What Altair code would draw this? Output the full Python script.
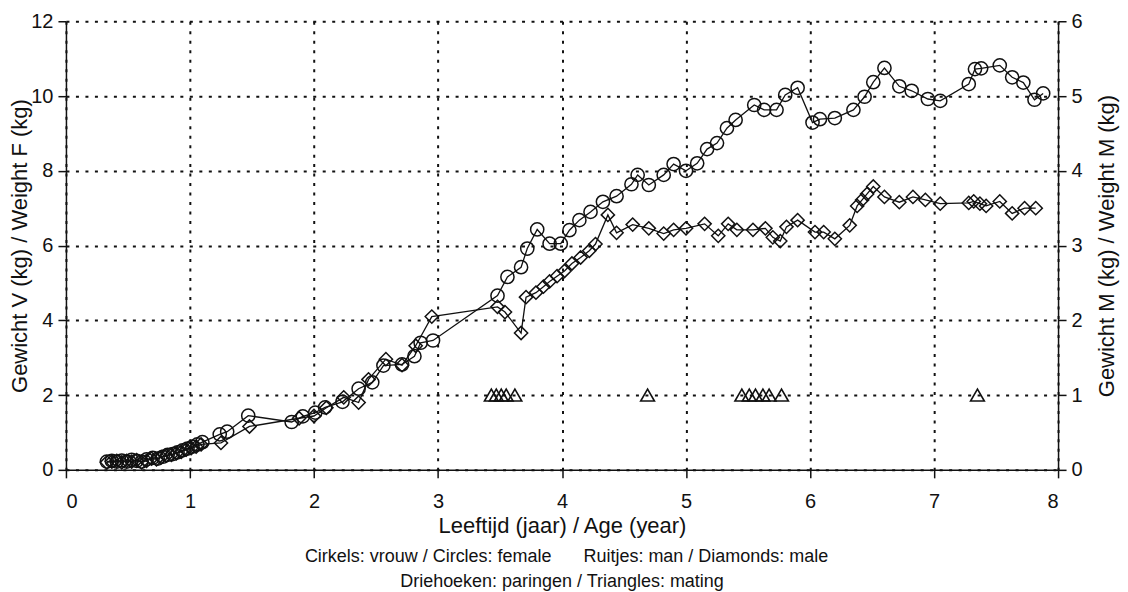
import altair as alt
import pandas as pd

# ---- data ----
female_age = [0.33, 0.37, 0.41, 0.45, 0.49, 0.53, 0.57, 0.61, 0.65, 0.70, 0.74, 0.78, 0.82,
              0.86, 0.90, 0.94, 0.98, 1.02, 1.06, 1.10, 1.24, 1.30, 1.47, 1.82, 1.91, 2.01,
              2.09, 2.23, 2.36, 2.47, 2.56, 2.71, 2.81, 2.86, 2.96, 3.48, 3.56, 3.67, 3.72,
              3.80, 3.90, 3.99, 4.06, 4.14, 4.23, 4.33, 4.44, 4.56, 4.61, 4.70, 4.82, 4.90,
              5.00, 5.09, 5.17, 5.25, 5.33, 5.40, 5.55, 5.63, 5.73, 5.80, 5.90, 6.02, 6.08,
              6.20, 6.35, 6.44, 6.51, 6.60, 6.72, 6.82, 6.95, 7.05, 7.28, 7.33, 7.38, 7.53,
              7.63, 7.72, 7.81, 7.88]
female_kg = [0.22, 0.24, 0.22, 0.25, 0.22, 0.27, 0.24, 0.22, 0.28, 0.32, 0.30, 0.35, 0.40,
             0.42, 0.47, 0.52, 0.57, 0.62, 0.68, 0.74, 0.95, 1.02, 1.45, 1.28, 1.43, 1.53,
             1.67, 1.82, 2.17, 2.34, 2.79, 2.82, 3.04, 3.40, 3.46, 4.66, 5.16, 5.42, 5.92,
             6.43, 6.05, 6.05, 6.41, 6.68, 6.90, 7.17, 7.32, 7.64, 7.89, 7.62, 7.89, 8.18,
             8.00, 8.20, 8.58, 8.74, 9.14, 9.36, 9.76, 9.63, 9.63, 10.03, 10.22, 9.29, 9.38,
             9.41, 9.63, 9.98, 10.37, 10.75, 10.26, 10.14, 9.92, 9.87, 10.32, 10.72, 10.74,
             10.82, 10.50, 10.36, 9.90, 10.07]

male_age = [0.33, 0.37, 0.41, 0.45, 0.49, 0.53, 0.57, 0.61, 0.65, 0.69, 0.73, 0.77, 0.81,
            0.85, 0.89, 0.93, 0.97, 1.01, 1.05, 1.09, 1.25, 1.48, 1.88, 2.00, 2.10, 2.24,
            2.36, 2.44, 2.58, 2.71, 2.82, 2.95, 3.48, 3.54, 3.67, 3.71, 3.79, 3.85, 3.90,
            3.96, 4.02, 4.08, 4.15, 4.22, 4.27, 4.37, 4.44, 4.57, 4.70, 4.82, 4.90, 5.00,
            5.15, 5.26, 5.34, 5.41, 5.54, 5.64, 5.70, 5.76, 5.81, 5.90, 6.04, 6.11, 6.20,
            6.32, 6.38, 6.42, 6.46, 6.51, 6.60, 6.72, 6.83, 6.93, 7.05, 7.28, 7.32, 7.37,
            7.42, 7.53, 7.63, 7.73, 7.82]
male_kg = [0.10, 0.11, 0.12, 0.10, 0.12, 0.11, 0.13, 0.10, 0.12, 0.15, 0.14, 0.17, 0.19,
           0.20, 0.22, 0.24, 0.27, 0.29, 0.31, 0.34, 0.36, 0.58, 0.69, 0.72, 0.83, 0.97,
           0.90, 1.21, 1.48, 1.40, 1.66, 2.05, 2.18, 2.11, 1.83, 2.31, 2.37, 2.45, 2.52,
           2.59, 2.66, 2.76, 2.84, 2.93, 3.02, 3.41, 3.17, 3.28, 3.23, 3.16, 3.21, 3.23,
           3.29, 3.13, 3.29, 3.21, 3.21, 3.23, 3.11, 3.06, 3.25, 3.34, 3.18, 3.18, 3.09,
           3.27, 3.53, 3.61, 3.69, 3.79, 3.65, 3.58, 3.65, 3.61, 3.56, 3.57, 3.59, 3.56,
           3.53, 3.59, 3.43, 3.50, 3.50]

mating_age = [3.43, 3.47, 3.51, 3.55, 3.62, 4.69, 5.45, 5.51, 5.56, 5.62, 5.67, 5.77, 7.35]
mating_level = [1] * len(mating_age)

x_ticks = [0, 1, 2, 3, 4, 5, 6, 7, 8]
left_ticks = [0, 2, 4, 6, 8, 10, 12]
right_ticks = [0, 1, 2, 3, 4, 5, 6]

caption_1a = "Cirkels: vrouw / Circles: female"
caption_1b = "Ruitjes: man / Diamonds: male"
caption_2 = "Driehoeken: paringen / Triangles: mating"

# ---- frames ----
female = pd.DataFrame({"age": female_age, "kg": female_kg})
male = pd.DataFrame({"age": male_age, "kg": male_kg})
mating = pd.DataFrame({"age": mating_age, "kg": mating_level})

FONT = "Liberation Sans"
INK = "#111111"
W, H = 993, 449

x_axis = alt.Axis(
    values=x_ticks, grid=True, gridDash=[3, 6.5], gridWidth=2, gridColor=INK,
    domainColor=INK, domainWidth=1.5, tickColor=INK, tickSize=8, tickWidth=1.5,
    labelFont=FONT, labelFontSize=20, labelColor=INK, labelPadding=14,
    title="Leeftijd (jaar) / Age (year)", titleFont=FONT, titleFontSize=22,
    titleFontWeight="normal", titleColor=INK, titleX=W / 2, titleY=63,
    titleAlign="center", titleBaseline="alphabetic",
)
X = alt.X("age:Q", scale=alt.Scale(domain=[0, 8], nice=False, zero=False), axis=x_axis)

left_axis = alt.Axis(
    orient="left", values=left_ticks, grid=True, gridDash=[3, 6.5], gridWidth=2, gridColor=INK,
    domainColor=INK, domainWidth=1.5, tickColor=INK, tickSize=8, tickWidth=1.5,
    labelFont=FONT, labelFontSize=20, labelColor=INK, labelPadding=5,
    title="Gewicht V (kg) / Weight F (kg)", titleFont=FONT, titleFontSize=22,
    titleFontWeight="normal", titleColor=INK, titleAngle=270, titleX=-39, titleY=H / 2,
    titleAlign="center", titleBaseline="alphabetic",
)
right_axis = alt.Axis(
    orient="right", values=right_ticks, grid=False,
    domainColor=INK, domainWidth=1.5, tickColor=INK, tickSize=8, tickWidth=1.5,
    labelFont=FONT, labelFontSize=20, labelColor=INK, labelPadding=5,
    title="Gewicht M (kg) / Weight M (kg)", titleFont=FONT, titleFontSize=22,
    titleFontWeight="normal", titleColor=INK, titleAngle=270, titleX=55, titleY=H / 2,
    titleAlign="center", titleBaseline="alphabetic",
)

YF = alt.Y("kg:Q", scale=alt.Scale(domain=[0, 12], nice=False), axis=left_axis)
YM = alt.Y("kg:Q", scale=alt.Scale(domain=[0, 6], nice=False), axis=right_axis)

f_base = alt.Chart(female).encode(x=X, y=YF)
female_layer = alt.layer(
    f_base.mark_line(color=INK, strokeWidth=1.3),
    f_base.mark_point(shape="circle", size=175, filled=False, color=INK, strokeWidth=1.5, opacity=1),
)

m_base = alt.Chart(male).encode(x=X, y=YM)
male_layer = alt.layer(
    m_base.mark_line(color=INK, strokeWidth=1.3),
    m_base.mark_point(shape="diamond", size=175, filled=False, color=INK, strokeWidth=1.5, opacity=1),
    alt.Chart(mating).mark_point(shape="triangle-up", size=190, filled=False, color=INK,
                                  strokeWidth=1.6, opacity=1).encode(x=X, y=YM),
)

def caption(text, x, y, align):
    return alt.Chart(pd.DataFrame({"t": [text]})).mark_text(
        font=FONT, fontSize=18, color=INK, align=align, baseline="alphabetic"
    ).encode(text="t:N", x=alt.value(x), y=alt.value(y))

chart = alt.layer(
    female_layer,
    male_layer,
    caption(caption_1a, 486, 541, "right"),
    caption(caption_1b, 518, 541, "left"),
    caption(caption_2, W / 2, 566, "center"),
).resolve_scale(y="independent").properties(
    width=W, height=H,
    autosize=alt.AutoSizeParams(type="none"),
    padding={"left": 58, "top": 13, "right": 62, "bottom": 122},
    background="white",
).configure_view(stroke=None)

chart.save("out.html", embed_options={"renderer": "svg", "actions": False})
